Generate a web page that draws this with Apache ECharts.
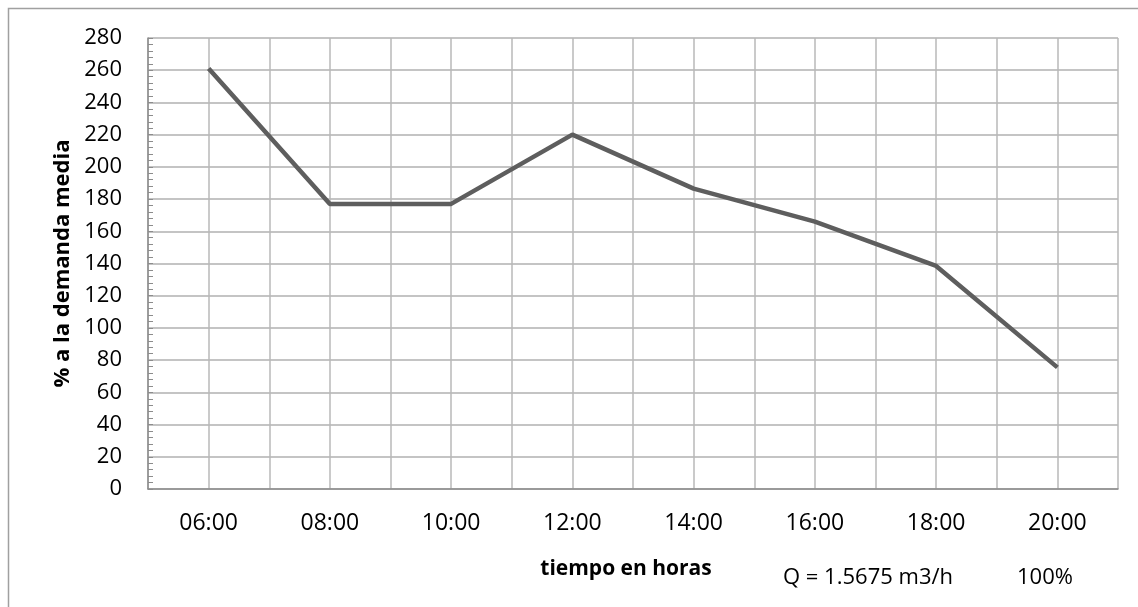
<!DOCTYPE html>
<html>
<head>
<meta charset="utf-8">
<script src="https://cdn.jsdelivr.net/npm/echarts@6/dist/echarts.min.js"></script>
<style>html,body{margin:0;padding:0;background:#fff;}#c{width:1138px;height:607px;}</style>
</head>
<body>
<div id="c"></div>
<script>
const categories = ['06:00','08:00','10:00','12:00','14:00','16:00','18:00','20:00'];
const values = [261, 177, 177, 220, 186.5, 166, 138.5, 75.5];
const yTitle = '% a la demanda media';
const xTitle = 'tiempo en horas';
const noteQ = 'Q = 1.5675 m3/h';
const notePct = '100%';

const font = '"Open Sans", sans-serif';
const chart = echarts.init(document.getElementById('c'), null, {renderer: 'canvas'});
chart.setOption({
  backgroundColor: '#fff',
  animation: false,
  grid: {left: 148, right: 20, top: 38, bottom: 118},
  graphic: [
    {type: 'rect', shape: {x: 8.5, y: 8.5, width: 1150, height: 620}, style: {fill: 'none', stroke: '#a0a0a0', lineWidth: 1.5}, silent: true},
    {type: 'text', x: 783, y: 578, style: {text: noteQ, font: '22px ' + font, fill: '#000', verticalAlign: 'middle'}},
    {type: 'text', x: 1017, y: 578, style: {text: notePct, font: '22px ' + font, fill: '#000', verticalAlign: 'middle'}}
  ],
  xAxis: [
    {
      type: 'category', data: categories, boundaryGap: true,
      axisLine: {lineStyle: {color: '#8c8c8c', width: 1.5}},
      axisTick: {show: false},
      axisLabel: {color: '#000', fontSize: 23, fontFamily: font, margin: 23},
      splitLine: {show: false},
      name: xTitle, nameLocation: 'middle', nameGap: 70,
      nameTextStyle: {color: '#000', fontSize: 21, fontWeight: 'bold', fontFamily: font, padding: [0, 14, 0, 0]}
    },
    {
      type: 'value', min: 0, max: 16, interval: 1, position: 'top',
      axisLine: {show: false}, axisTick: {show: false}, axisLabel: {show: false},
      splitLine: {show: true, lineStyle: {color: '#b8b8b8', width: 1.5}}
    }
  ],
  yAxis: {
    type: 'value', min: 0, max: 280, interval: 20,
    axisLine: {show: true, lineStyle: {color: '#8c8c8c', width: 1.5}},
    axisTick: {show: true, inside: true, length: 5, lineStyle: {color: '#8c8c8c'}},
    minorTick: {show: true, splitNumber: 5, length: 5, lineStyle: {color: '#8c8c8c'}},
    axisLabel: {color: '#000', fontSize: 22, fontFamily: font, margin: 26},
    splitLine: {show: true, lineStyle: {color: '#b0b0b0', width: 1.5}},
    name: yTitle, nameLocation: 'middle', nameGap: 74,
    nameTextStyle: {color: '#000', fontSize: 22, fontWeight: 'bold', fontFamily: font}
  },
  series: [{
    type: 'line', data: values, xAxisIndex: 0,
    symbol: 'none', lineStyle: {color: '#5e5e5e', width: 4.5}
  }]
});
</script>
</body>
</html>
